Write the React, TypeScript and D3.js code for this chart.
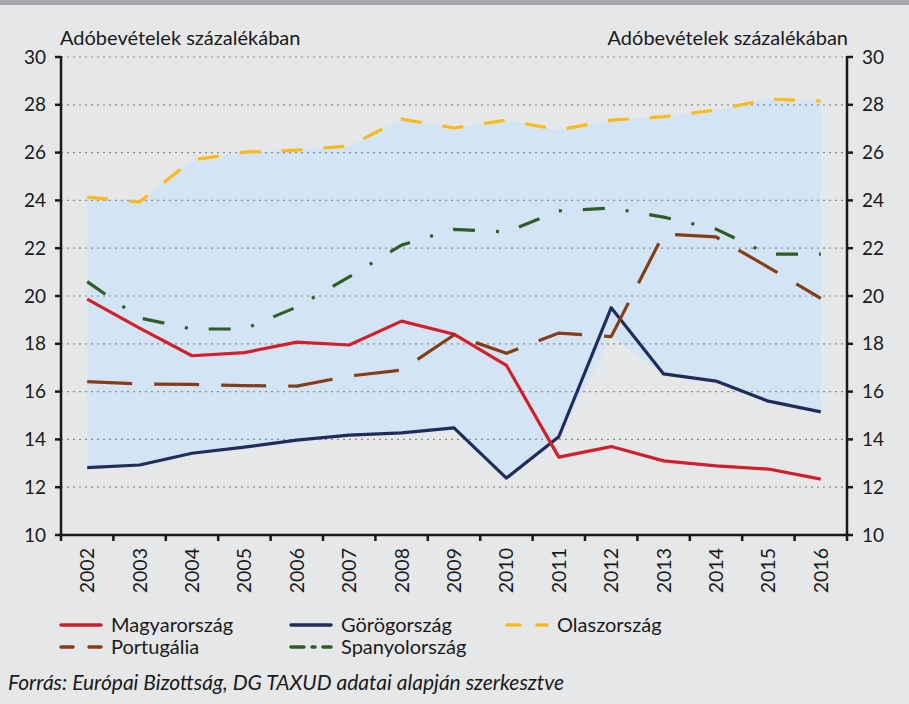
import React from "react";
import * as d3 from "d3";

const years = ["2002","2003","2004","2005","2006","2007","2008","2009","2010","2011","2012","2013","2014","2015","2016"];
const hungary = [19.87,18.66,17.5,17.63,18.07,17.95,18.95,18.4,17.1,13.26,13.7,13.1,12.89,12.76,12.34];
const greece = [12.82,12.93,13.42,13.68,13.97,14.18,14.27,14.48,12.38,14.11,19.51,16.74,16.44,15.6,15.15];
const italy = [24.14,23.93,25.69,26.02,26.1,26.28,27.4,27.03,27.36,26.95,27.36,27.5,27.78,28.24,28.16];
const portugal = [16.42,16.32,16.3,16.25,16.23,16.65,16.9,18.37,17.6,18.45,18.3,22.6,22.47,21.2,19.9];
const spain = [20.6,19.08,18.62,18.62,19.54,20.8,22.13,22.79,22.68,23.56,23.68,23.3,22.8,21.75,21.75];
const yTicks = [10,12,14,16,18,20,22,24,26,28,30];
const axisTitle = "Adóbevételek százalékában";
const source = "Forrás: Európai Bizottság, DG TAXUD adatai alapján szerkesztve";

const series = [
  { name: "Magyarország", values: hungary, color: "#d11f2b", dash: "" },
  { name: "Görögország", values: greece, color: "#1e2d5c", dash: "" },
  { name: "Olaszország", values: italy, color: "#fbba18", dash: "21 21" },
  { name: "Portugália", values: portugal, color: "#843d16", dash: "45 22" },
  { name: "Spanyolország", values: spain, color: "#2f5d27", dash: "22 21 3 21" },
];

export default function App() {
  const W = 909, H = 704;
  const left = 61, right = 847, top = 57, bottom = 535;
  const font = "Lato, 'Open Sans', sans-serif";
  const x = d3.scaleBand().domain(years).range([left, right]);
  const cx = (i: number) => (x(years[i]) as number) + x.bandwidth() / 2;
  const y = d3.scaleLinear().domain([10, 30]).range([bottom, top]);

  const others = [greece, italy, portugal, spain];
  const bandData = years.map((_, i) => ({
    i,
    lo: d3.min(others, (s) => s[i]) as number,
    hi: d3.max(others, (s) => s[i]) as number,
  }));
  const area = d3.area<any>().x((d) => cx(d.i)).y0((d) => y(d.lo)).y1((d) => y(d.hi));
  const line = d3.line<number>().x((_, i) => cx(i)).y((v) => y(v));

  const drawOrder = [1, 0, 2, 3, 4];
  const legendPos = [
    { x: 61, y: 625 },
    { x: 291, y: 625 },
    { x: 507, y: 625 },
    { x: 61, y: 647 },
    { x: 291, y: 647 },
  ];

  return (
    <div style={{ position: "absolute", left: 0, top: 0 }}>
      <svg width={W} height={H} style={{ display: "block" }}>
        <rect x={0} y={0} width={W} height={H} fill="#e6e7e9" />
        <rect x={0} y={0} width={W} height={5} fill="#a6a7aa" />
        <path d={area(bandData) as string} fill="#d3e5f4" />
        {yTicks.filter((t) => t > 10).map((t) => (
          <line key={t} x1={left} x2={right} y1={y(t)} y2={y(t)} stroke="#8a8a8a" strokeWidth={1.2} strokeDasharray="2 4" />
        ))}
        {drawOrder.map((k) => {
          const s = series[k];
          return (
            <path key={s.name} d={line(s.values) as string} fill="none" stroke={s.color} strokeWidth={3.2}
              strokeDasharray={s.dash || undefined} strokeLinejoin="round" />
          );
        })}
        <line x1={left} x2={left} y1={top - 1} y2={bottom + 1} stroke="#1a1a1a" strokeWidth={2.5} />
        <line x1={right} x2={right} y1={top - 1} y2={bottom + 1} stroke="#1a1a1a" strokeWidth={2.5} />
        <line x1={left} x2={right} y1={bottom} y2={bottom} stroke="#1a1a1a" strokeWidth={2.5} />
        {yTicks.map((t) => (
          <g key={t}>
            <line x1={left - 6} x2={left} y1={y(t)} y2={y(t)} stroke="#1a1a1a" strokeWidth={2.5} />
            <line x1={right} x2={right + 6} y1={y(t)} y2={y(t)} stroke="#1a1a1a" strokeWidth={2.5} />
            <text x={46} y={y(t)} dy="0.35em" textAnchor="end" fontFamily={font} fontSize={19} fill="#1a1a1a">{t}</text>
            <text x={862} y={y(t)} dy="0.35em" textAnchor="start" fontFamily={font} fontSize={19} fill="#1a1a1a">{t}</text>
          </g>
        ))}
        {years.map((yr) => (
          <line key={"b" + yr} x1={x(yr) as number} x2={x(yr) as number} y1={bottom} y2={bottom + 6} stroke="#1a1a1a" strokeWidth={2.5} />
        ))}
        <line x1={right} x2={right} y1={bottom} y2={bottom + 6} stroke="#1a1a1a" strokeWidth={2.5} />
        {years.map((yr, i) => (
          <text key={yr} transform={`translate(${cx(i) + 7},548) rotate(-90)`} textAnchor="end" fontFamily={font} fontSize={19.5} fill="#1a1a1a">{yr}</text>
        ))}
        <text x={60} y={45} fontFamily={font} fontSize={20} fill="#1a1a1a">{axisTitle}</text>
        <text x={848} y={45} textAnchor="end" fontFamily={font} fontSize={20} fill="#1a1a1a">{axisTitle}</text>
        {series.map((s, k) => {
          const p = legendPos[k];
          return (
            <g key={"lg" + s.name}>
              <line x1={p.x} x2={p.x + 40} y1={p.y} y2={p.y} stroke={s.color} strokeWidth={3.5}
                strokeDasharray={k === 2 ? "13 17" : k === 3 ? "12 16" : k === 4 ? "13 8 3 8" : undefined} strokeLinecap="round" />
              <text x={p.x + 50} y={p.y} dy="0.35em" fontFamily={font} fontSize={20} fill="#1a1a1a">{s.name}</text>
            </g>
          );
        })}
        <text x={8} y={690} fontFamily={font} fontStyle="italic" fontSize={21} fill="#1a1a1a">{source}</text>
      </svg>
    </div>
  );
}
